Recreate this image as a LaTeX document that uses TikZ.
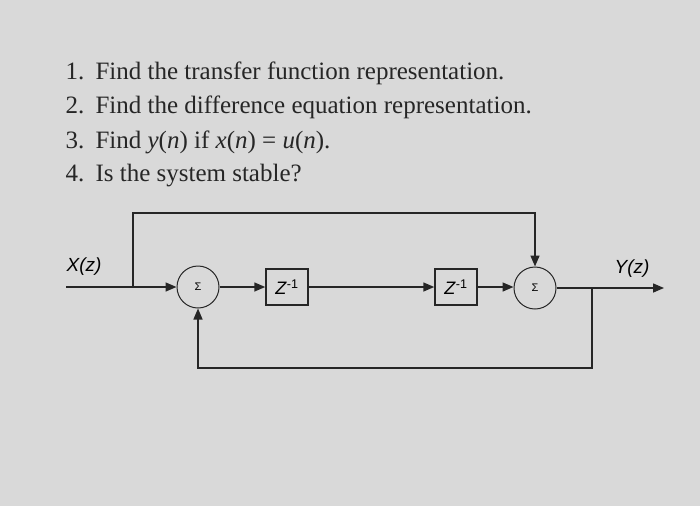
\documentclass[tikz,border=0pt]{standalone}
\usepackage{fontspec}
\setmainfont{Liberation Serif}
\newfontfamily\diag{Liberation Sans}
\usetikzlibrary{arrows.meta}
\begin{document}
\begin{tikzpicture}[x=1pt,y=-1pt,
  line/.style={draw=black!85,line width=1.5pt},
  arr/.style={line,-{Triangle[length=11pt,width=9pt]}},
  sumnode/.style={circle,draw=black!85,line width=1pt,minimum size=42pt,inner sep=0pt,font=\diag\fontsize{11}{12}\selectfont},
  delay/.style={draw=black!85,line width=1.5pt,minimum width=42pt,minimum height=36pt,inner sep=0pt,font=\diag\fontsize{18}{20}\selectfont},
  qtext/.style={anchor=west,font=\fontsize{25}{28}\selectfont,text=black!85}]
\fill[gray!30] (0,0) rectangle (700,506);
\useasboundingbox (0,0) rectangle (700,506);
\node[qtext] (q1) at (62,73) {1.\hspace{0.45em}Find the transfer function representation.};
\node[qtext] (q2) at (62,107) {2.\hspace{0.45em}Find the difference equation representation.};
\node[qtext] (q3) at (62,142) {3.\hspace{0.45em}Find \textit{y}(\textit{n}) if \textit{x}(\textit{n}) = \textit{u}(\textit{n}).};
\node[qtext] (q4) at (62,176) {4.\hspace{0.45em}Is the system stable?};
\node[sumnode] (s1) at (198,287) {Σ};
\node[delay] (d1) at (287,287) {\textit{Z}\textsuperscript{-1}};
\node[delay] (d2) at (456,287) {\textit{Z}\textsuperscript{-1}};
\node[sumnode] (s2) at (535,288) {Σ};
\coordinate (in) at (66,287);
\coordinate (br) at (133,287);
\coordinate (out) at (664,288);
\coordinate (fb) at (592,288);
\node[font=\diag\fontsize{19}{21}\selectfont,anchor=south] (xl) at (84,279) {\textit{X(z)}};
\node[font=\diag\fontsize{19}{21}\selectfont,anchor=south] (yl) at (632,281) {\textit{Y(z)}};
\draw[line] (in) -- (br);
\draw[arr] (br) -- (s1.west);
\draw[arr] (br) -- (133,213) -- (s2.north |- 0,213) -- (s2.north);
\draw[arr] (s1.east) -- (d1.west);
\draw[arr] (d1.east) -- (d2.west);
\draw[arr] (d2.east) -- (d2.east -| s2.west);
\draw[arr] (s2.east) -- (out);
\draw[arr] (fb) -- (592,368) -- (s1.south |- 0,368) -- (s1.south);
\end{tikzpicture}
\end{document}
